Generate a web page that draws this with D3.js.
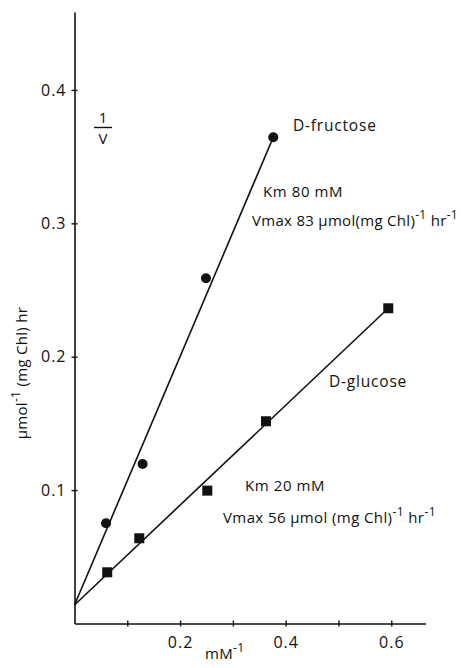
<!DOCTYPE html>
<html>
<head>
<meta charset="utf-8">
<script src="https://cdn.jsdelivr.net/npm/d3@7"></script>
<style>
  html, body { margin: 0; padding: 0; background: #fff; }
  svg text { font-family: "Open Sans", "Liberation Sans", sans-serif; fill: #111; }
</style>
</head>
<body>
<svg id="chart" width="461" height="668"></svg>
<script>
// ---- data ----
const fructoseX = [0.0597, 0.129, 0.249, 0.3765];
const fructoseY = [0.0751, 0.1196, 0.2588, 0.3645];
const glucoseX = [0.062, 0.1227, 0.2515, 0.3627, 0.5943];
const glucoseY = [0.0384, 0.0639, 0.0996, 0.1516, 0.2363];
const fructoseFitX = [0, 0.3765];
const fructoseFitY = [0.0139, 0.3645];
const glucoseFitX = [0, 0.5943];
const glucoseFitY = [0.0139, 0.2363];
const xTicks = [0.1, 0.2, 0.3, 0.4, 0.5, 0.6];
const xTickLabels = ["", "0.2", "", "0.4", "", "0.6"];
const yTicks = [0.1, 0.2, 0.3, 0.4];
const yTickLabels = ["0.1", "0.2", "0.3", "0.4"];

const svg = d3.select("#chart");
const x = d3.scaleLinear().domain([0, 0.665]).range([74.5, 425.6]);
const y = d3.scaleLinear().domain([0, 0.4584]).range([623.5, 12]);

// axes
const xAxis = d3.axisBottom(x).tickValues(xTicks)
  .tickFormat((d, i) => xTickLabels[i]).tickSize(3).tickPadding(10).tickSizeOuter(0);
const gx = svg.append("g").attr("transform", `translate(0,${y(0)})`).call(xAxis);
gx.select(".domain").attr("stroke", "#111").attr("stroke-width", 1.6);
gx.selectAll(".tick line").attr("y1", -3).attr("y2", 3).attr("stroke", "#111").attr("stroke-width", 1.4);
gx.selectAll(".tick text").style("font-size", "16px").style("letter-spacing", "1px").attr("fill", "#111");

const yAxis = d3.axisLeft(y).tickValues(yTicks)
  .tickFormat((d, i) => yTickLabels[i]).tickSize(3).tickPadding(5).tickSizeOuter(0);
const gy = svg.append("g").attr("transform", `translate(${x(0)},0)`).call(yAxis);
gy.select(".domain").attr("stroke", "#111").attr("stroke-width", 1.6);
gy.selectAll(".tick line").attr("x1", -3).attr("x2", 3).attr("stroke", "#111").attr("stroke-width", 1.4);
gy.selectAll(".tick text").style("font-size", "16px").style("letter-spacing", "1px").attr("fill", "#111");

// fit lines
const line = d3.line().x(d => x(d[0])).y(d => y(d[1]));
svg.append("path").datum(d3.zip(fructoseFitX, fructoseFitY)).attr("d", line)
  .attr("fill", "none").attr("stroke", "#111").attr("stroke-width", 1.6);
svg.append("path").datum(d3.zip(glucoseFitX, glucoseFitY)).attr("d", line)
  .attr("fill", "none").attr("stroke", "#111").attr("stroke-width", 1.6);

// points
svg.selectAll("circle.fr").data(d3.zip(fructoseX, fructoseY)).enter().append("circle")
  .attr("class", "fr").attr("cx", d => x(d[0])).attr("cy", d => y(d[1])).attr("r", 5).attr("fill", "#111");
svg.selectAll("rect.gl").data(d3.zip(glucoseX, glucoseY)).enter().append("rect")
  .attr("class", "gl").attr("x", d => x(d[0]) - 5).attr("y", d => y(d[1]) - 5)
  .attr("width", 10).attr("height", 10).attr("fill", "#111");

// text helpers
function label(xp, yp, parts, size, ls) {
  const t = svg.append("text").attr("x", xp).attr("y", yp).style("font-size", size + "px")
    .style("letter-spacing", (ls || 0) + "px");
  parts.forEach(p => {
    if (typeof p === "string") t.append("tspan").text(p);
    else t.append("tspan").attr("dy", p.dy).style("font-size", p.size + "px").text(p.t);
  });
  return t;
}

// 1/V
svg.append("text").attr("x", 103).attr("y", 123).attr("text-anchor", "middle").style("font-size", "15px").text("1");
svg.append("line").attr("x1", 94).attr("x2", 112).attr("y1", 127.5).attr("y2", 127.5).attr("stroke", "#111").attr("stroke-width", 1.4);
svg.append("text").attr("x", 103).attr("y", 144).attr("text-anchor", "middle").style("font-size", "15px").text("V");

// labels
label(293, 131, ["D-fructose"], 15.5, 0.8);
label(263, 197, ["Km  80 mM"], 15, 0.6);
label(252, 226, ["Vmax  83 μmol(mg Chl)", {t: "-1", dy: -7, size: 12}, {t: " hr", dy: 7, size: 15}, {t: "-1", dy: -7, size: 12}], 15, 0.3);
label(329, 387, ["D-glucose"], 15.5, 0.8);
label(245, 491, ["Km  20 mM"], 15, 0.6);
label(223, 523, ["Vmax 56 μmol (mg Chl)", {t: "-1", dy: -7, size: 12}, {t: " hr", dy: 7, size: 15}, {t: "-1", dy: -7, size: 12}], 15, 0.4);

// axis titles
label(205, 659, ["mM", {t: "-1", dy: -7, size: 12}], 15, 0.3);
svg.append("text").attr("transform", "translate(27,373) rotate(-90)").attr("text-anchor", "middle")
  .style("font-size", "15px").style("letter-spacing", "0.3px")
  .call(t => {
    t.append("tspan").text("μmol");
    t.append("tspan").attr("dy", -7).style("font-size", "12px").text("-1");
    t.append("tspan").attr("dy", 7).text(" (mg Chl)  hr");
  });
</script>
</body>
</html>
